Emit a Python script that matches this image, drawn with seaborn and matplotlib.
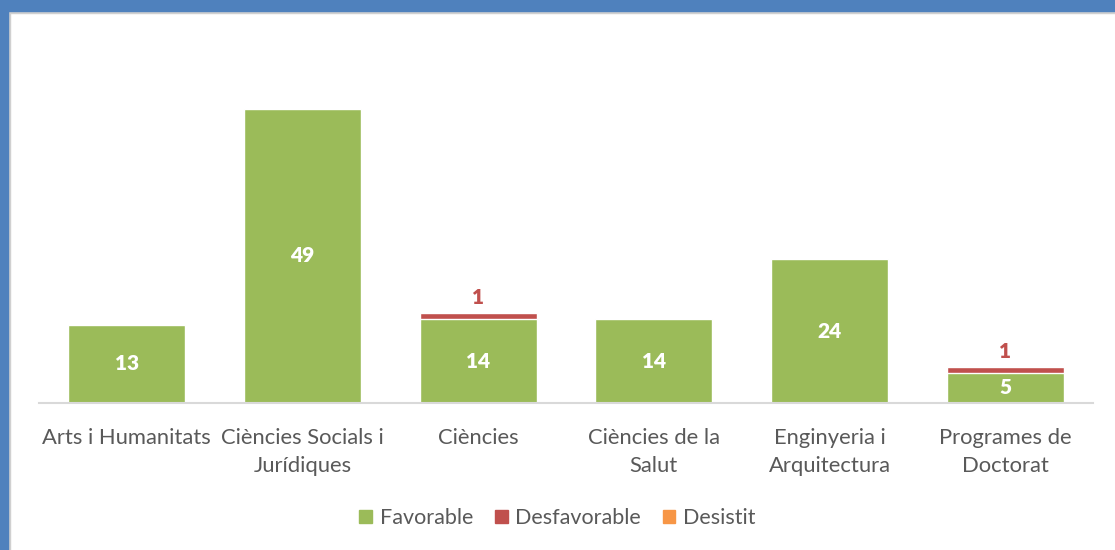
import pandas as pd
import seaborn as sns
import matplotlib.pyplot as plt
from matplotlib.patches import Rectangle, Patch

## data
categories = ['Arts i Humanitats', 'Ciències Socials i\nJurídiques', 'Ciències',
              'Ciències de la\nSalut', 'Enginyeria i\nArquitectura', 'Programes de\nDoctorat']
favorable = [13, 49, 14, 14, 24, 5]
desfavorable = [0, 0, 1, 0, 0, 1]
desistit = [0, 0, 0, 0, 0, 0]

green = '#9BBB59'
red = '#C0504D'
orange = '#F79646'
grey_txt = '#595959'

df = pd.DataFrame({'cat': categories, 'fav': favorable, 'desf': desfavorable, 'des': desistit})
df['top_desf'] = df['fav'] + df['desf']
df['top_des'] = df['top_desf'] + df['des']

sns.set_theme(style='white')
plt.rcParams['font.family'] = ['Lato', 'DejaVu Sans']

W, H = 1115, 550
fig = plt.figure(figsize=(W / 100, H / 100), dpi=100)
ax = fig.add_axes([39 / W, 147 / H, 1054 / W, 360 / H])

## stacked bars: draw totals back to front
sns.barplot(data=df, x='cat', y='top_des', color=orange, width=0.667, saturation=1, ax=ax)
sns.barplot(data=df, x='cat', y='top_desf', color=red, width=0.667, saturation=1, ax=ax)
sns.barplot(data=df, x='cat', y='fav', color=green, width=0.667, saturation=1, ax=ax)

ax.set_ylim(0, 60)
ax.set_xlim(-0.5, len(categories) - 0.5)
ax.set_xlabel('')
ax.set_ylabel('')
ax.set_yticks([])
for s in ['top', 'right', 'left']:
    ax.spines[s].set_visible(False)
ax.spines['bottom'].set_color('#D9D9D9')
ax.spines['bottom'].set_linewidth(1.5)
ax.tick_params(axis='x', length=0, pad=18, labelsize=15.8, labelcolor=grey_txt)
for lbl in ax.get_xticklabels():
    lbl.set_linespacing(1.5)
    lbl.set_verticalalignment('top')

## value labels
for i, row in df.iterrows():
    ax.text(i, row['fav'] / 2, str(row['fav']), ha='center', va='center',
            color='white', fontsize=15, fontweight='heavy')
    if row['desf'] > 0:
        ax.text(i, row['top_desf'] + 2.5, str(row['desf']), ha='center', va='center',
                color=red, fontsize=15, fontweight='heavy')

## legend
handles = [Patch(color=green, label='Favorable'),
           Patch(color=red, label='Desfavorable'),
           Patch(color=orange, label='Desistit')]
leg = fig.legend(handles=handles, loc='center', bbox_to_anchor=(0.5, 1 - 518 / H), ncol=3,
                 frameon=False, fontsize=15.5, handlelength=0.6, handleheight=0.6,
                 handletextpad=0.35, columnspacing=1.0)
for t in leg.get_texts():
    t.set_color(grey_txt)

## blue frame of the original chart
fig.patches.append(Rectangle((0, 1 - 11 / H), 1, 11 / H, transform=fig.transFigure,
                             color='#4F81BD', zorder=10))
fig.patches.append(Rectangle((0, 0), 8 / W, 1, transform=fig.transFigure,
                             color='#4F81BD', zorder=10))
fig.patches.append(Rectangle((8 / W, 1 - 13 / H), 1, 2 / H, transform=fig.transFigure,
                             color='#D0D0D0', zorder=9))
fig.patches.append(Rectangle((8 / W, 0), 2 / W, 1 - 11 / H, transform=fig.transFigure,
                             color='#D0D0D0', zorder=9))

fig.savefig('out.png', dpi=100)
